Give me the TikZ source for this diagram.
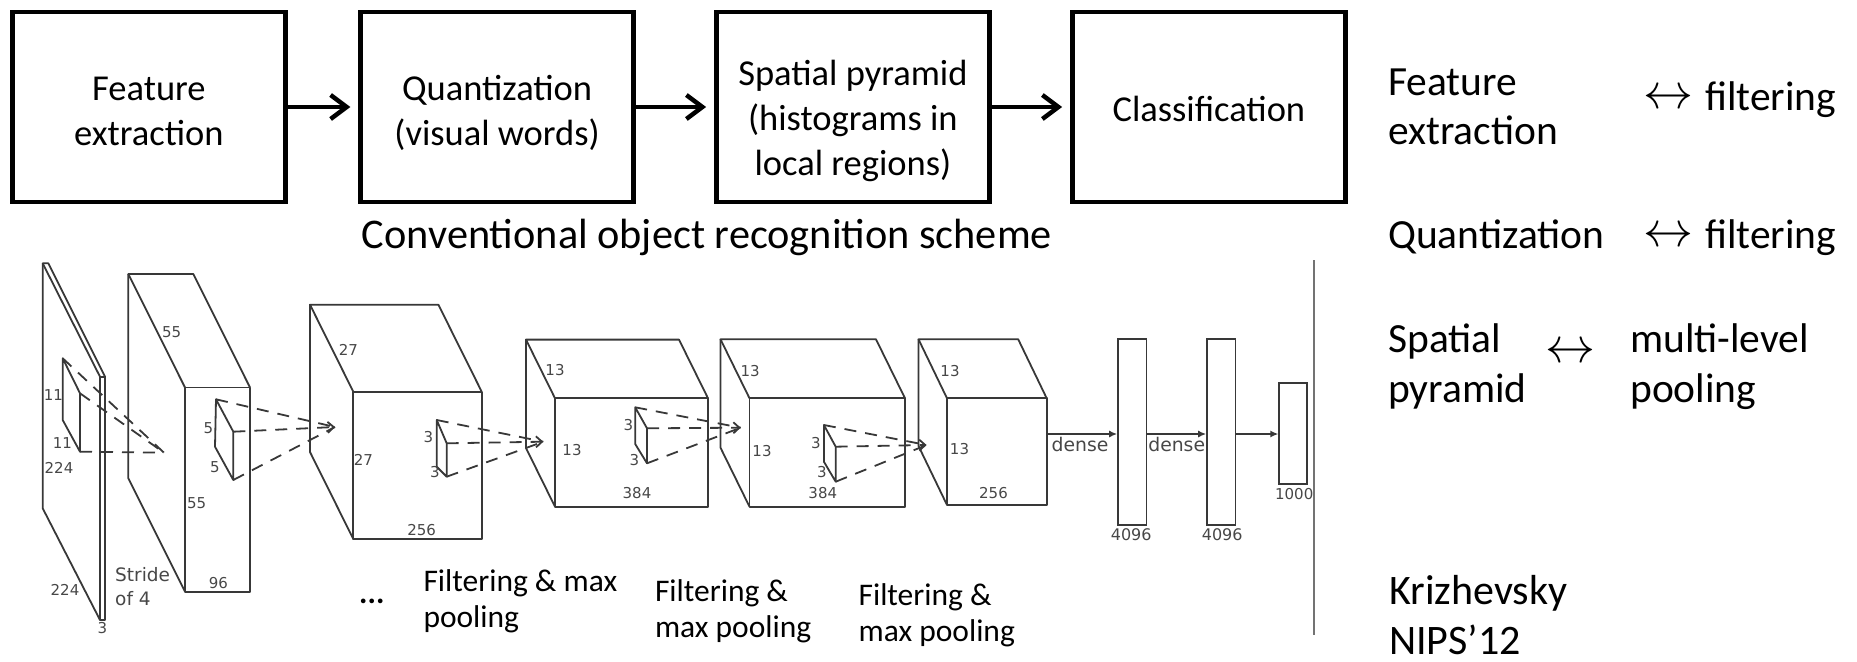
\documentclass[tikz,border=0pt]{standalone}
\usepackage{fix-cm}
\usepackage{fontspec}
\setmainfont{Carlito}
\newfontfamily\djv{DejaVu Sans}
\usetikzlibrary{arrows.meta}
\newcommand\txtl[1]{\begin{tabular}[t]{@{}l@{}}#1\end{tabular}}
\newcommand\txtc[1]{\begin{tabular}[t]{@{}c@{}}#1\end{tabular}}
\tikzset{
  flowbox/.style={draw, line width=4.5pt, minimum width=273pt, minimum height=189.5pt,
    inner sep=0pt, font=\fontsize{36.5}{45}\selectfont},
  flowarrow/.style={line width=4.5pt, -{Straight Barb[length=16pt,width=24pt]}, shorten >=8pt},
  cnn/.style={draw=black!78, line width=1.8pt, line join=round},
  kdash/.style={draw=black!78, line width=1.8pt, dash pattern=on 12pt off 9pt},
  ktip/.style={-{Straight Barb[length=6pt,width=11pt]}},
  dimlbl/.style={font=\djv\fontsize{15}{18}\selectfont, text=black!72, inner sep=0pt},
  fclayer/.style={draw=black!78, line width=1.8pt, inner sep=0pt, minimum width=28.4pt},
  densearrow/.style={draw=black!78, line width=1.8pt, -{Latex[length=8pt,width=7pt]}},
  rtxt/.style={font=\fontsize{41.5}{50}\selectfont, anchor=base west, inner sep=0pt},
  ktxt/.style={font=\fontsize{42}{50}\selectfont, anchor=base west, inner sep=0pt},
  btxt/.style={font=\fontsize{31.5}{36}\selectfont, anchor=base west, inner sep=0pt},
  harr/.style={font=\fontsize{50}{50}\selectfont, inner sep=0pt},
}
\newcommand\cnncube[6]{%
  \draw[cnn] (#1,#2) rectangle (#3,#4);
  \draw[cnn] (#3,#2) -- ++(-#5,-#6) -- ++(#1-#3,0) -- (#1,#2);
  \draw[cnn] (#1,#2) ++(-#5,-#6) -- ++(0,#4-#2) -- (#1,#4);
}
\newcommand\cnnkernel[7]{%
  \coordinate (#1a) at (#2); \coordinate (#1b) at (#3);
  \coordinate (#1c) at (#4); \coordinate (#1d) at (#5);
  \coordinate (#1t) at (#6);
  \draw[cnn] (#1a) -- (#1b) -- (#1c) -- (#1d) -- cycle;
  \draw[kdash] (#1a) -- (#1t);
  \draw[kdash,#7] (#1b) -- (#1t);
  \draw[kdash] (#1c) -- (#1t);
}
\begin{document}
\begin{tikzpicture}[x=1pt,y=-1pt]
\useasboundingbox (0,0) rectangle (1857,661);

% ---------- conventional pipeline ----------
\node[flowbox, text height=0pt, text depth=14pt] (b1) at (148.9,107) {\txtc{Feature\\extraction}};
\node[flowbox, text height=0pt, text depth=14pt] (b2) at (497.1,107) {\txtc{Quantization\\(visual words)}};
\node[flowbox, text height=0pt, text depth=44pt] (b3) at (852.9,107) {\txtc{Spatial pyramid\\(histograms in\\local regions)}};
\node[flowbox, text height=28pt, text depth=0pt] (b4) at (1208.9,107) {\txtc{Classification}};
\draw[flowarrow] (b1) -- (b2);
\draw[flowarrow] (b2) -- (b3);
\draw[flowarrow] (b3) -- (b4);
\node[font=\fontsize{42.3}{50}\selectfont, anchor=base, inner sep=0pt] (conv) at (707,248)
  {Conventional object recognition scheme};

% ---------- right column ----------
\node[rtxt] (fe) at (1388,95) {\txtl{Feature\\extraction}};
\node[harr] (h1) at (1668,99) {$\leftrightarrow$};
\node[rtxt] (f1) at (1705,110) {filtering};
\node[rtxt] (qu) at (1388,248) {Quantization};
\node[harr] (h2) at (1668,237) {$\leftrightarrow$};
\node[rtxt] (f2) at (1705,248) {filtering};
\node[rtxt] (sp) at (1388,352) {\txtl{Spatial\\pyramid}};
\node[harr] (h3) at (1570.5,353.5) {$\leftrightarrow$};
\node[rtxt] (ml) at (1630,352) {\txtl{multi-level\\pooling}};
\node[ktxt] (kr) at (1389,604) {\txtl{Krizhevsky\\NIPS’12}};

% separator
\coordinate (sepT) at (1314,260);
\coordinate (sepB) at (1314,635);
\draw[draw=black!55, line width=2pt] (sepT) -- (sepB);

% ---------- CNN figure ----------
% input slab
\draw[cnn] (42.7,263.3) -- (42.7,508.3) -- (100,620) -- (105,620) -- (105,376.7) -- (48.3,263.3) -- cycle;
\draw[cnn] (42.7,263.3) -- (100,376.7) -- (100,620);
\draw[cnn] (100,376.7) -- (105,376.7);
% conv cubes
\cnncube{185}{387.5}{250}{591.7}{56.7}{113.5}
\cnncube{353.3}{391.7}{481.7}{539}{43.3}{87}
\cnncube{555}{398.3}{708}{506.7}{29}{58.7}
\cnncube{749.5}{398.3}{905}{506.7}{29}{59}
\cnncube{947}{398.3}{1046.7}{505}{28.5}{59}
% kernels and receptive-field lines
\cnnkernel{k0}{62.7,358.3}{80,393.3}{80,451.7}{62.7,420}{164,452.7}{}
\cnnkernel{k1}{216,399.3}{233.3,431.7}{233.3,480}{215,446.7}{335,427}{ktip}
\cnnkernel{k2}{436.7,420}{446.7,443.3}{446.7,476.7}{436.7,466.7}{543.3,441.7}{ktip}
\cnnkernel{k3}{635.2,407.3}{647,428.3}{647,463.3}{635.2,444}{740.7,427.7}{ktip}
\cnnkernel{k4}{823.9,425}{835.7,446.7}{835.7,481.7}{823.9,461.7}{926.6,445}{ktip}

% dense layers
\node[fclayer, minimum height=185.7pt] (fc1) at (1132.3,432.2) {};
\node[fclayer, minimum height=185.7pt] (fc2) at (1221.3,432.2) {};
\node[fclayer, minimum width=28pt, minimum height=100.7pt] (fc3) at (1293.3,433.7) {};
\coordinate (l5e) at (1046.7,434);
\draw[densearrow] (l5e) -- (l5e -| fc1.west);
\draw[densearrow] (fc1.east |- l5e) -- (fc2.west |- l5e);
\draw[densearrow] (fc2.east |- l5e) -- (fc3.west |- l5e);

% dimension labels
\node[dimlbl] (d1) at (53.3,395) {11};
\node[dimlbl] (d2) at (62.3,443.3) {11};
\node[dimlbl] (d3) at (59,468.3) {224};
\node[dimlbl] (d4) at (65,590) {224};
\node[dimlbl] (d5) at (102.3,628.3) {3};
\node[dimlbl, font=\djv\fontsize{18.5}{23.3}\selectfont, anchor=base west] (str) at (115,581.7) {\txtl{Stride\\of 4}};
\node[dimlbl] (d6) at (171.7,331.7) {55};
\node[dimlbl] (d7) at (196.7,503.3) {55};
\node[dimlbl] (d8) at (218.3,583.3) {96};
\node[dimlbl] (d9) at (208.3,428.3) {5};
\node[dimlbl] (d10) at (215,466.7) {5};
\node[dimlbl] (d11) at (348.3,350) {27};
\node[dimlbl] (d12) at (363.3,460) {27};
\node[dimlbl] (d13) at (421.7,530) {256};
\node[dimlbl] (d14) at (428.3,436.7) {3};
\node[dimlbl] (d15) at (435,471.7) {3};
\node[dimlbl] (d16) at (555,370) {13};
\node[dimlbl] (d17) at (572,450.5) {13};
\node[dimlbl] (d18) at (637,493.3) {384};
\node[dimlbl] (d19) at (628.5,425) {3};
\node[dimlbl] (d20) at (634.5,460) {3};
\node[dimlbl] (d21) at (750.2,370.7) {13};
\node[dimlbl] (d22) at (762,450.7) {13};
\node[dimlbl] (d23) at (822.8,493.3) {384};
\node[dimlbl] (d24) at (816,443.3) {3};
\node[dimlbl] (d25) at (821.8,471.7) {3};
\node[dimlbl] (d26) at (950,370.7) {13};
\node[dimlbl] (d27) at (959.5,449.5) {13};
\node[dimlbl] (d28) at (993.5,493.3) {256};
\node[dimlbl, font=\djv\fontsize{18.8}{22}\selectfont, anchor=base] (de1) at (1080,451.7) {dense};
\node[dimlbl, font=\djv\fontsize{18.8}{22}\selectfont, anchor=base] (de2) at (1176.7,451.7) {dense};
\node[dimlbl, font=\djv\fontsize{16}{18}\selectfont, anchor=base] (n1) at (1131.2,540) {4096};
\node[dimlbl, font=\djv\fontsize{16}{18}\selectfont, anchor=base] (n2) at (1222.2,540) {4096};
\node[dimlbl, font=\djv\fontsize{15}{18}\selectfont, anchor=base] (n3) at (1294.2,499.3) {1000};

% bottom captions
\node[btxt, font=\bfseries\fontsize{31.5}{36}\selectfont] (dots) at (359,603) {...};
\node[btxt] (l1) at (423.3,591.7) {\txtl{Filtering \& max\\pooling}};
\node[btxt] (l2) at (654.8,601.7) {\txtl{Filtering \&\\max pooling}};
\node[btxt] (l3) at (858.4,605) {\txtl{Filtering \&\\max pooling}};
\end{tikzpicture}
\end{document}
